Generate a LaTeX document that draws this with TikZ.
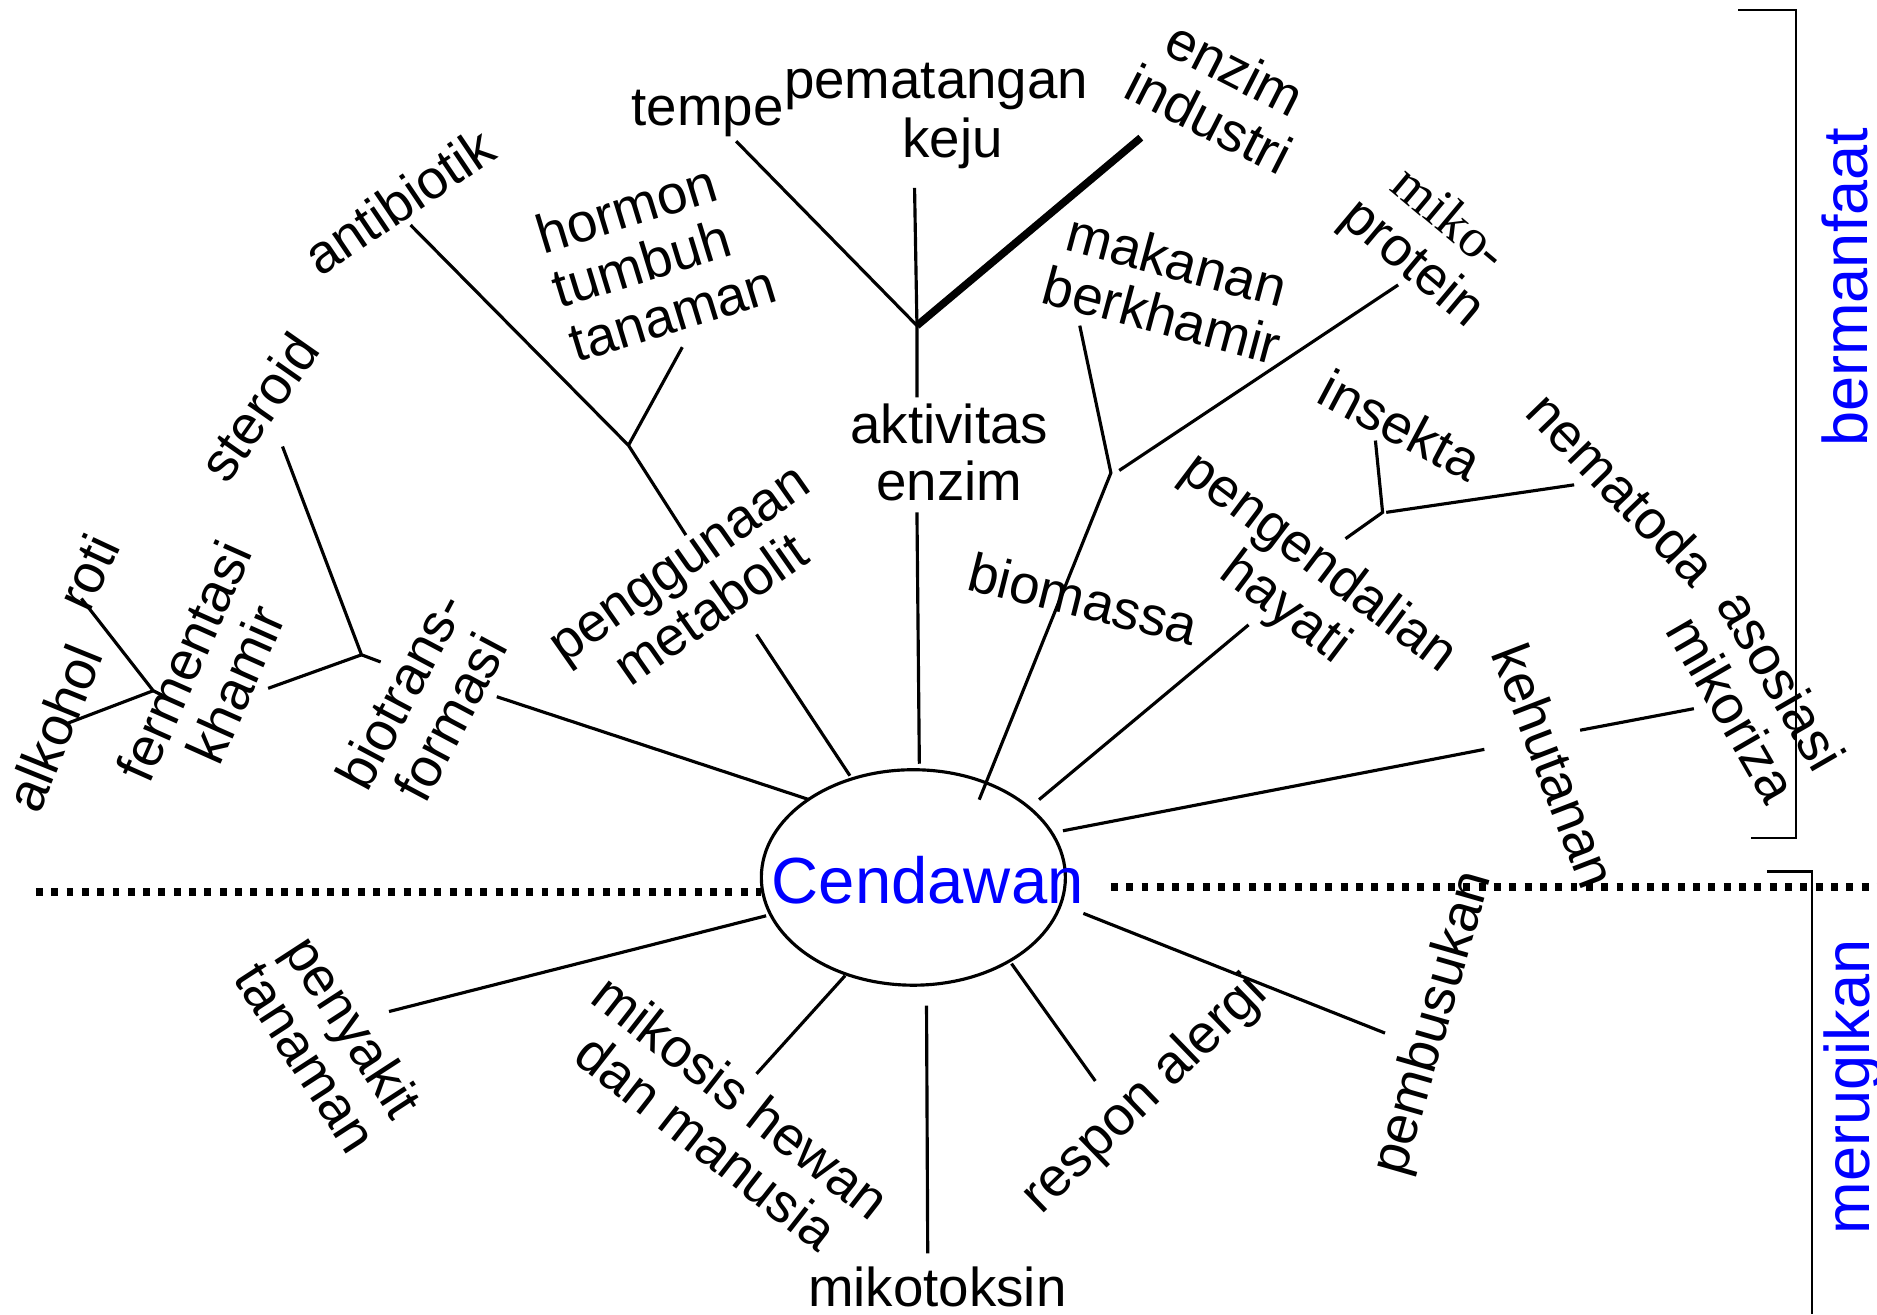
\documentclass[tikz,border=0pt]{standalone}
\usepackage{fontspec}
\setmainfont{Liberation Sans}
\newfontfamily\mikoserif{Liberation Serif}
\usetikzlibrary{shapes.geometric}

\begin{document}
\begin{tikzpicture}[
          x=0.1mm, y=-0.1mm,
          every node/.style={inner sep=0pt, align=center},
          lbl/.style={font=\fontsize{13}{13.5}\selectfont},
          side/.style={font=\fontsize{15}{17}\selectfont, text=blue, rotate=90},
          link/.style={line width=0.75pt},
          heavy/.style={line width=1.8pt},
          dots/.style={line width=1.9pt, dash pattern=on 0.58mm off 0.7mm},
          bracket/.style={line width=0.5pt}
        ]
        \useasboundingbox (0,0) rectangle (1568,1098);

        % Centre
        \node[draw, ellipse, link, minimum width=25.4mm, minimum height=18mm] (cend) at (763,733) {};
        \node[font=\fontsize{15.5}{17}\selectfont, text=blue] (cendtxt) at (775,735) {Cendawan};

        % Dotted divider
        \coordinate (divL) at (30,745);
        \coordinate (divM) at (636,745);
        \coordinate (divN) at (928,741);
        \coordinate (divR) at (1568,741);
        \draw[dots] (divL) -- (divM);
        \draw[dots] (divN) -- (divR);

        % Brackets
        \draw[bracket] (1452,8) -- (1500,8) -- (1500,700) -- (1463,700);
        \draw[bracket] (1476,728) -- (1514,728) -- (1514,1098);
        \node[side] (manfaat) at (1541,240) {bermanfaat};
        \node[side] (rugi) at (1548,908) {merugikan};

        % Upper left: biotransformasi
        \node[lbl, rotate=62] (bio) at (355,588) {biotrans-\\formasi};
        \node[lbl, rotate=55] (steroid) at (216,340) {steroid};
        \node[lbl, rotate=66] (ferm) at (175,562) {fermentasi\\khamir};
        \node[lbl, rotate=65] (roti) at (73,478) {roti};
        \node[lbl, rotate=68] (alkohol) at (45,608) {alkohol};
        \coordinate (bioA) at (676,668);
        \coordinate (bioB) at (415,582);
        \coordinate (jBio) at (302,547);
        \coordinate (bioS) at (318,553);
        \coordinate (sterA) at (236,373);
        \coordinate (fermA) at (224,575);
        \coordinate (jFerm) at (128,577);
        \coordinate (fermS) at (136,581);
        \coordinate (rotiA) at (68,500);
        \coordinate (alkA) at (57,604);
        \draw[link] (bioA) -- (bioB);
        \draw[link] (sterA) -- (jBio) -- (bioS);
        \draw[link] (fermA) -- (jBio);
        \draw[link] (rotiA) -- (jFerm) -- (fermS);
        \draw[link] (alkA) -- (jFerm);

        % Upper left: penggunaan metabolit
        \node[lbl, rotate=35] (metab) at (582,492) {penggunaan\\metabolit};
        \node[lbl, rotate=34] (antibio) at (333,168) {antibiotik};
        \node[lbl, rotate=17, align=left] (hormon) at (548,216) {hormon\\tumbuh\\tanaman};
        \coordinate (metA) at (710,648);
        \coordinate (metB) at (632,530);
        \coordinate (metC) at (573,447);
        \coordinate (jMet) at (525,372);
        \coordinate (antiA) at (343,188);
        \coordinate (horA) at (570,290);
        \draw[link] (metA) -- (metB);
        \draw[link] (metC) -- (jMet) -- (antiA);
        \draw[link] (jMet) -- (horA);

        % Top: aktivitas enzim
        \node[lbl] (aktiv) at (793,378) {aktivitas\\enzim};
        \node[lbl] (tempe) at (591,95) {tempe};
        \node[lbl, font=\fontsize{13}{14}\selectfont] (keju) at (782,97) {pematangan\\\hspace*{0.6em}keju};
        \node[lbl, rotate=-27] (industri) at (1021,78) {enzim\\industri};
        \coordinate (aktA) at (768,638);
        \coordinate (aktB) at (766,428);
        \coordinate (aktC) at (766,332);
        \coordinate (jAkt) at (766,272);
        \coordinate (kejuA) at (764,157);
        \coordinate (tempeA) at (615,118);
        \coordinate (indA) at (953,115);
        \draw[link] (aktA) -- (aktB);
        \draw[link] (aktC) -- (jAkt) -- (kejuA);
        \draw[link] (jAkt) -- (tempeA);
        \draw[heavy] (jAkt) -- (indA);

        % Upper right: biomassa
        \node[lbl, rotate=-14] (biomassa) at (905,500) {biomassa};
        \node[lbl, rotate=-15] (makanan) at (977,240) {makanan\\berkhamir};
        \node[lbl, rotate=-40] (miko) at (1194,203) {{\mikoserif miko-}\\protein};
        \coordinate (bmA) at (818,668);
        \coordinate (jBm) at (928,395);
        \coordinate (makA) at (902,272);
        \coordinate (mikoB) at (935,393);
        \coordinate (mikoA) at (1168,238);
        \draw[link] (bmA) -- (jBm) -- (makA);
        \draw[link] (mikoB) -- (mikoA);

        % Upper right: pengendalian hayati
        \node[lbl, rotate=-37] (hayati) at (1087,490) {pengendalian\\hayati};
        \node[lbl, rotate=-28] (insekta) at (1170,355) {insekta};
        \node[lbl, rotate=-46] (nematoda) at (1355,408) {nematoda};
        \coordinate (hayA) at (868,668);
        \coordinate (hayB) at (1043,522);
        \coordinate (hayC) at (1124,450);
        \coordinate (jHay) at (1155,428);
        \coordinate (insA) at (1149,368);
        \coordinate (nemB) at (1158,428);
        \coordinate (nemA) at (1315,405);
        \draw[link] (hayA) -- (hayB);
        \draw[link] (hayC) -- (jHay) -- (insA);
        \draw[link] (nemB) -- (nemA);

        % Right: kehutanan
        \node[lbl, rotate=-69] (hutan) at (1299,640) {kehutanan};
        \node[lbl, rotate=-60] (mikoriza) at (1468,580) {asosiasi\\mikoriza};
        \coordinate (hutA) at (888,694);
        \coordinate (hutB) at (1240,626);
        \coordinate (hutC) at (1320,610);
        \coordinate (rizA) at (1415,592);
        \draw[link] (hutA) -- (hutB);
        \draw[link] (hutC) -- (rizA);

        % Lower half (merugikan)
        \node[lbl, rotate=-57] (penyakit) at (276,870) {penyakit\\tanaman};
        \node[lbl, rotate=-38] (mikosis) at (605,935) {mikosis hewan\\dan manusia};
        \node[lbl] (toksin) at (783,1075) {mikotoksin};
        \node[lbl, rotate=44] (alergi) at (957,915) {respon alergi};
        \node[lbl, rotate=74] (busuk) at (1198,855) {pembusukan};
        \coordinate (penA) at (640,765);
        \coordinate (penB) at (325,845);
        \coordinate (mksA) at (706,815);
        \coordinate (mksB) at (632,897);
        \coordinate (tokA) at (774,840);
        \coordinate (tokB) at (775,1047);
        \coordinate (alrA) at (845,805);
        \coordinate (alrB) at (915,903);
        \coordinate (bskA) at (905,763);
        \coordinate (bskB) at (1157,863);
        \draw[link] (penA) -- (penB);
        \draw[link] (mksA) -- (mksB);
        \draw[link] (tokA) -- (tokB);
        \draw[link] (alrA) -- (alrB);
        \draw[link] (bskA) -- (bskB);

      \end{tikzpicture}
\end{document}
